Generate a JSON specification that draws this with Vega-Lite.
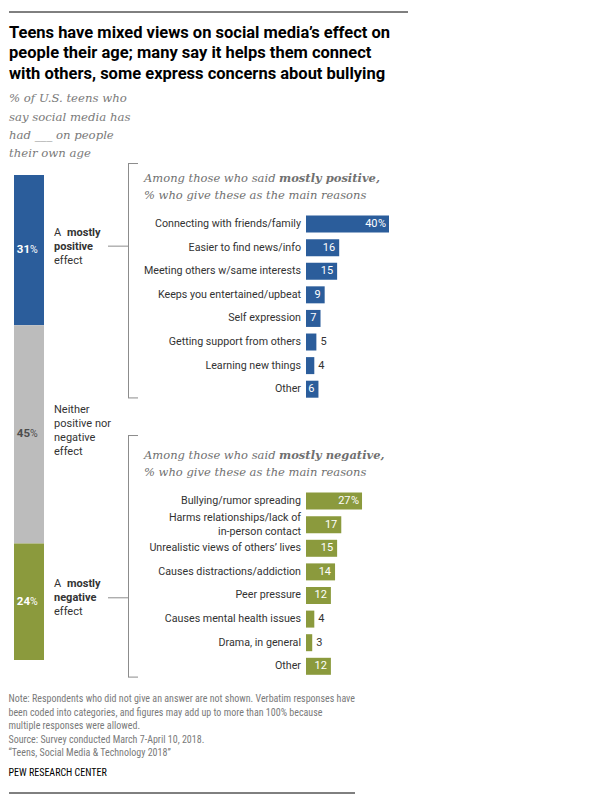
{
  "$schema": "https://vega.github.io/schema/vega-lite/v6.json",
  "background": "white",
  "padding": {"left": 8, "top": 11, "right": 10, "bottom": 16},
  "config": {"view": {"stroke": null}, "font": "Roboto"},
  "datasets": {
    "effects": [
      {"effect": "positive", "pct": 31, "rank": 1},
      {"effect": "neither", "pct": 45, "rank": 2},
      {"effect": "negative", "pct": 24, "rank": 3}
    ],
    "positive": [
      {"reason": "Connecting with friends/family", "pct": 40, "rank": 1},
      {"reason": "Easier to find news/info", "pct": 16, "rank": 2},
      {"reason": "Meeting others w/same interests", "pct": 15, "rank": 3},
      {"reason": "Keeps you entertained/upbeat", "pct": 9, "rank": 4},
      {"reason": "Self expression", "pct": 7, "rank": 5},
      {"reason": "Getting support from others", "pct": 5, "rank": 6},
      {"reason": "Learning new things", "pct": 4, "rank": 7},
      {"reason": "Other", "pct": 6, "rank": 8}
    ],
    "negative": [
      {"reason": "Bullying/rumor spreading", "pct": 27, "rank": 1},
      {"reason": "Harms relationships/lack of\nin-person contact", "pct": 17, "rank": 2},
      {"reason": "Unrealistic views of others’ lives", "pct": 15, "rank": 3},
      {"reason": "Causes distractions/addiction", "pct": 14, "rank": 4},
      {"reason": "Peer pressure", "pct": 12, "rank": 5},
      {"reason": "Causes mental health issues", "pct": 4, "rank": 6},
      {"reason": "Drama, in general", "pct": 3, "rank": 7},
      {"reason": "Other", "pct": 12, "rank": 8}
    ]
  },
  "spacing": 10,
  "vconcat": [
    {
      "width": 399,
      "height": 2,
      "data": {"values": [{}]},
      "mark": {"type": "rule", "color": "#000000", "strokeWidth": 1},
      "encoding": {
        "y": {"datum": 0, "type": "quantitative", "axis": null, "scale": {"domain": [0, 1], "reverse": true}}
      }
    },
    {
      "title": {
        "text": [
          "Teens have mixed views on social media’s effect on",
          "people their age; many say it helps them connect",
          "with others, some express concerns about bullying"
        ],
        "subtitle": ["% of U.S. teens who", "say social media has", "had ___ on people", "their own age"],
        "anchor": "start",
        "font": "Roboto",
        "fontSize": 16.5,
        "fontWeight": "bold",
        "color": "#000000",
        "lineHeight": 20.5,
        "subtitleFont": "DejaVu Serif",
        "subtitleFontStyle": "italic",
        "subtitleFontSize": 11.7,
        "subtitleColor": "#7a7a7a",
        "subtitleLineHeight": 18.3,
        "subtitlePadding": 11,
        "offset": -2
      },
      "bounds": "flush",
      "spacing": 257,
      "hconcat": [
        {
          "width": 40,
          "height": 502,
          "data": {"name": "effects"},
          "encoding": {
            "x": {"datum": "U.S. teens", "type": "nominal", "axis": null, "scale": {"paddingInner": 0, "paddingOuter": 0}},
            "order": {"field": "rank", "type": "quantitative"},
            "detail": {"field": "effect", "type": "nominal"}
          },
          "layer": [
            {
              "mark": {"type": "bar", "width": 30},
              "encoding": {
                "y": {"field": "pct", "type": "quantitative", "stack": "zero", "axis": null, "scale": {"domain": [-3.5, 100], "reverse": true, "nice": false, "zero": false, "padding": 0}},
                "color": {"field": "effect", "type": "nominal", "legend": null, "scale": {"domain": ["positive", "neither", "negative"], "range": ["#2b5d9b", "#bcbcbc", "#8b9a3d"]}}
              }
            },
            {
              "mark": {"type": "text", "align": "right", "baseline": "middle", "dx": 1, "fontSize": 11.5, "fontWeight": "bold"},
              "encoding": {
                "y": {"field": "pct", "type": "quantitative", "stack": "zero", "bandPosition": 0.5},
                "text": {"field": "pct", "type": "quantitative"},
                "color": {"condition": {"test": "datum.effect === 'neither'", "value": "#4d4d4d"}, "value": "#ffffff"}
              }
            },
            {
              "mark": {"type": "text", "align": "left", "baseline": "middle", "dx": 1, "fontSize": 10.5, "text": "%"},
              "encoding": {
                "y": {"field": "pct", "type": "quantitative", "stack": "zero", "bandPosition": 0.5},
                "color": {"condition": {"test": "datum.effect === 'neither'", "value": "#4d4d4d"}, "value": "#ffffff"}
              }
            },
            {
              "mark": {"type": "text", "align": "left", "baseline": "middle", "dx": 25, "dy": -17.5, "fontSize": 11, "color": "#333333"},
              "encoding": {
                "y": {"field": "pct", "type": "quantitative", "stack": "zero", "bandPosition": 0.5},
                "text": {"condition": {"test": "datum.effect === 'neither'", "value": ""}, "value": "A"}
              }
            },
            {
              "mark": {"type": "text", "align": "left", "baseline": "middle", "dx": 38, "dy": -17.5, "fontSize": 11, "fontWeight": "bold", "color": "#333333"},
              "encoding": {
                "y": {"field": "pct", "type": "quantitative", "stack": "zero", "bandPosition": 0.5},
                "text": {"condition": {"test": "datum.effect === 'neither'", "value": ""}, "value": "mostly"}
              }
            },
            {
              "mark": {"type": "text", "align": "left", "baseline": "middle", "dx": 25, "dy": -3.5, "fontSize": 11, "fontWeight": "bold", "color": "#333333"},
              "encoding": {
                "y": {"field": "pct", "type": "quantitative", "stack": "zero", "bandPosition": 0.5},
                "text": {"condition": {"test": "datum.effect === 'neither'", "value": ""}, "field": "effect", "type": "nominal"}
              }
            },
            {
              "mark": {"type": "text", "align": "left", "baseline": "middle", "dx": 25, "dy": 10.5, "fontSize": 11, "color": "#333333"},
              "encoding": {
                "y": {"field": "pct", "type": "quantitative", "stack": "zero", "bandPosition": 0.5},
                "text": {"condition": {"test": "datum.effect === 'neither'", "value": ""}, "value": "effect"}
              }
            },
            {
              "mark": {"type": "text", "align": "left", "baseline": "middle", "dx": 25, "dy": -24.5, "fontSize": 11, "lineHeight": 14, "lineBreak": "\n", "color": "#333333"},
              "encoding": {
                "y": {"field": "pct", "type": "quantitative", "stack": "zero", "bandPosition": 0.5},
                "text": {"condition": {"test": "datum.effect === 'neither'", "value": "Neither\npositive nor\nnegative\neffect"}, "value": ""}
              }
            },
            {
              "mark": {"type": "rule", "color": "#8c8c8c", "strokeWidth": 1, "xOffset": 79, "x2Offset": 99, "yOffset": -4},
              "encoding": {
                "x2": {"datum": "U.S. teens"},
                "y": {"field": "pct", "type": "quantitative", "stack": "zero", "bandPosition": 0.5},
                "strokeOpacity": {"condition": {"test": "datum.effect === 'neither'", "value": 0}, "value": 1}
              }
            }
          ]
        },
        {
          "bounds": "flush",
          "spacing": 34,
          "vconcat": [
            {
              "width": 83,
              "height": 243,
              "data": {"name": "positive"},
              "encoding": {
                "y": {"field": "rank", "type": "quantitative", "axis": null, "scale": {"domain": [-1.8, 8.5], "reverse": true, "nice": false, "zero": false, "padding": 0}}
              },
              "layer": [
                {
                  "mark": {"type": "bar", "orient": "horizontal", "size": 17, "color": "#2b5d9b"},
                  "encoding": {"x": {"field": "pct", "type": "quantitative", "axis": null, "scale": {"domain": [0, 40], "nice": false}}}
                },
                {
                  "mark": {"type": "text", "align": "right", "baseline": "middle", "dx": -5, "fontSize": 10.7, "color": "#333333"},
                  "encoding": {"x": {"datum": 0}, "text": {"field": "reason", "type": "nominal"}}
                },
                {
                  "transform": [{"filter": "datum.pct >= 6 && datum.rank > 1"}],
                  "mark": {"type": "text", "align": "right", "baseline": "middle", "dx": -4, "fontSize": 11, "color": "#ffffff"},
                  "encoding": {"x": {"field": "pct", "type": "quantitative"}, "text": {"field": "pct", "type": "quantitative"}}
                },
                {
                  "transform": [{"filter": "datum.pct < 6"}],
                  "mark": {"type": "text", "align": "left", "baseline": "middle", "dx": 4, "fontSize": 11, "color": "#333333"},
                  "encoding": {"x": {"field": "pct", "type": "quantitative"}, "text": {"field": "pct", "type": "quantitative"}}
                },
                {
                  "transform": [{"filter": "datum.rank === 1"}],
                  "mark": {"type": "text", "align": "right", "baseline": "middle", "dx": -11.5, "fontSize": 11, "color": "#ffffff"},
                  "encoding": {"x": {"field": "pct", "type": "quantitative"}, "text": {"field": "pct", "type": "quantitative"}}
                },
                {
                  "transform": [{"filter": "datum.rank === 1"}],
                  "mark": {"type": "text", "align": "right", "baseline": "middle", "dx": -3, "fontSize": 11, "color": "#ffffff", "text": "%"},
                  "encoding": {"x": {"field": "pct", "type": "quantitative"}}
                },
                {
                  "transform": [{"filter": "datum.rank === 1"}],
                  "mark": {"type": "text", "align": "left", "baseline": "alphabetic", "dx": -162, "font": "DejaVu Serif", "fontStyle": "italic", "fontSize": 11.5, "color": "#707070", "text": "Among those who said"},
                  "encoding": {"x": {"datum": 0, "type": "quantitative"}, "y": {"datum": -0.78, "type": "quantitative"}}
                },
                {
                  "transform": [{"filter": "datum.rank === 1"}],
                  "mark": {"type": "text", "align": "left", "baseline": "alphabetic", "dx": -27, "font": "DejaVu Serif", "fontStyle": "italic", "fontWeight": "bold", "fontSize": 11.5, "color": "#707070", "text": "mostly positive,"},
                  "encoding": {"x": {"datum": 0, "type": "quantitative"}, "y": {"datum": -0.78, "type": "quantitative"}}
                },
                {
                  "transform": [{"filter": "datum.rank === 1"}],
                  "mark": {"type": "text", "align": "left", "baseline": "alphabetic", "dx": -162, "font": "DejaVu Serif", "fontStyle": "italic", "fontSize": 11.5, "color": "#707070", "text": "% who give these as the main reasons"},
                  "encoding": {"x": {"datum": 0, "type": "quantitative"}, "y": {"datum": -0.05, "type": "quantitative"}}
                },
                {
                  "transform": [{"filter": "datum.rank === 1"}],
                  "mark": {"type": "rule", "color": "#8c8c8c", "strokeWidth": 1, "xOffset": -177.5},
                  "encoding": {"x": {"datum": 0, "type": "quantitative"}, "y": {"datum": -1.566, "type": "quantitative"}, "y2": {"datum": 8.37}}
                },
                {
                  "transform": [{"filter": "datum.rank === 1"}],
                  "mark": {"type": "rule", "color": "#8c8c8c", "strokeWidth": 1, "xOffset": -178, "x2Offset": -168},
                  "encoding": {"x": {"datum": 0, "type": "quantitative"}, "x2": {"datum": 0}, "y": {"datum": -1.566, "type": "quantitative"}}
                },
                {
                  "transform": [{"filter": "datum.rank === 1"}],
                  "mark": {"type": "rule", "color": "#8c8c8c", "strokeWidth": 1, "xOffset": -178, "x2Offset": -168},
                  "encoding": {"x": {"datum": 0, "type": "quantitative"}, "x2": {"datum": 0}, "y": {"datum": 8.37, "type": "quantitative"}}
                }
              ]
            },
            {
              "width": 83,
              "height": 249,
              "data": {"name": "negative"},
              "encoding": {
                "y": {"field": "rank", "type": "quantitative", "axis": null, "scale": {"domain": [-1.8, 8.75], "reverse": true, "nice": false, "zero": false, "padding": 0}}
              },
              "layer": [
                {
                  "mark": {"type": "bar", "orient": "horizontal", "size": 17, "color": "#8b9a3d"},
                  "encoding": {"x": {"field": "pct", "type": "quantitative", "axis": null, "scale": {"domain": [0, 40], "nice": false}}}
                },
                {
                  "transform": [{"filter": "indexof(datum.reason, '\\n') < 0"}],
                  "mark": {"type": "text", "align": "right", "baseline": "middle", "dx": -5, "fontSize": 10.7, "color": "#333333"},
                  "encoding": {"x": {"datum": 0}, "text": {"field": "reason", "type": "nominal"}}
                },
                {
                  "transform": [{"filter": "indexof(datum.reason, '\\n') >= 0"}],
                  "mark": {"type": "text", "align": "right", "baseline": "middle", "dx": -5, "dy": -7, "fontSize": 10.7, "color": "#333333", "lineBreak": "\n", "lineHeight": 14},
                  "encoding": {"x": {"datum": 0}, "text": {"field": "reason", "type": "nominal"}}
                },
                {
                  "transform": [{"filter": "datum.pct >= 6 && datum.rank > 1"}],
                  "mark": {"type": "text", "align": "right", "baseline": "middle", "dx": -4, "fontSize": 11, "color": "#ffffff"},
                  "encoding": {"x": {"field": "pct", "type": "quantitative"}, "text": {"field": "pct", "type": "quantitative"}}
                },
                {
                  "transform": [{"filter": "datum.pct < 6"}],
                  "mark": {"type": "text", "align": "left", "baseline": "middle", "dx": 4, "fontSize": 11, "color": "#333333"},
                  "encoding": {"x": {"field": "pct", "type": "quantitative"}, "text": {"field": "pct", "type": "quantitative"}}
                },
                {
                  "transform": [{"filter": "datum.rank === 1"}],
                  "mark": {"type": "text", "align": "right", "baseline": "middle", "dx": -11.5, "fontSize": 11, "color": "#ffffff"},
                  "encoding": {"x": {"field": "pct", "type": "quantitative"}, "text": {"field": "pct", "type": "quantitative"}}
                },
                {
                  "transform": [{"filter": "datum.rank === 1"}],
                  "mark": {"type": "text", "align": "right", "baseline": "middle", "dx": -3, "fontSize": 11, "color": "#ffffff", "text": "%"},
                  "encoding": {"x": {"field": "pct", "type": "quantitative"}}
                },
                {
                  "transform": [{"filter": "datum.rank === 1"}],
                  "mark": {"type": "text", "align": "left", "baseline": "alphabetic", "dx": -162, "font": "DejaVu Serif", "fontStyle": "italic", "fontSize": 11.5, "color": "#707070", "text": "Among those who said"},
                  "encoding": {"x": {"datum": 0, "type": "quantitative"}, "y": {"datum": -0.78, "type": "quantitative"}}
                },
                {
                  "transform": [{"filter": "datum.rank === 1"}],
                  "mark": {"type": "text", "align": "left", "baseline": "alphabetic", "dx": -27, "font": "DejaVu Serif", "fontStyle": "italic", "fontWeight": "bold", "fontSize": 11.5, "color": "#707070", "text": "mostly negative,"},
                  "encoding": {"x": {"datum": 0, "type": "quantitative"}, "y": {"datum": -0.78, "type": "quantitative"}}
                },
                {
                  "transform": [{"filter": "datum.rank === 1"}],
                  "mark": {"type": "text", "align": "left", "baseline": "alphabetic", "dx": -162, "font": "DejaVu Serif", "fontStyle": "italic", "fontSize": 11.5, "color": "#707070", "text": "% who give these as the main reasons"},
                  "encoding": {"x": {"datum": 0, "type": "quantitative"}, "y": {"datum": -0.05, "type": "quantitative"}}
                },
                {
                  "transform": [{"filter": "datum.rank === 1"}],
                  "mark": {"type": "rule", "color": "#8c8c8c", "strokeWidth": 1, "xOffset": -177.5},
                  "encoding": {"x": {"datum": 0, "type": "quantitative"}, "y": {"datum": -1.778, "type": "quantitative"}, "y2": {"datum": 8.458}}
                },
                {
                  "transform": [{"filter": "datum.rank === 1"}],
                  "mark": {"type": "rule", "color": "#8c8c8c", "strokeWidth": 1, "xOffset": -178, "x2Offset": -168},
                  "encoding": {"x": {"datum": 0, "type": "quantitative"}, "x2": {"datum": 0}, "y": {"datum": -1.778, "type": "quantitative"}}
                },
                {
                  "transform": [{"filter": "datum.rank === 1"}],
                  "mark": {"type": "rule", "color": "#8c8c8c", "strokeWidth": 1, "xOffset": -178, "x2Offset": -168},
                  "encoding": {"x": {"datum": 0, "type": "quantitative"}, "x2": {"datum": 0}, "y": {"datum": 8.458, "type": "quantitative"}}
                }
              ]
            }
          ]
        }
      ]
    },
    {
      "width": 346,
      "height": 1,
      "title": {
        "text": [
          "Note: Respondents who did not give an answer are not shown. Verbatim responses have",
          "been coded into categories, and figures may add up to more than 100% because",
          "multiple responses were allowed.",
          "Source: Survey conducted March 7-April 10, 2018.",
          "“Teens, Social Media & Technology 2018”"
        ],
        "subtitle": "PEW RESEARCH CENTER",
        "anchor": "start",
        "font": "Roboto Condensed, Roboto",
        "fontSize": 10,
        "fontWeight": "normal",
        "color": "#7a7a7a",
        "lineHeight": 13.6,
        "subtitleFont": "Roboto Condensed, Roboto",
        "subtitleFontSize": 10,
        "subtitleColor": "#000000",
        "subtitlePadding": 9,
        "offset": 15
      },
      "data": {"values": [{}]},
      "mark": {"type": "rule", "color": "#000000", "strokeWidth": 1},
      "encoding": {
        "y": {"datum": 0, "type": "quantitative", "axis": null, "scale": {"domain": [0, 1], "reverse": true}}
      }
    }
  ]
}
